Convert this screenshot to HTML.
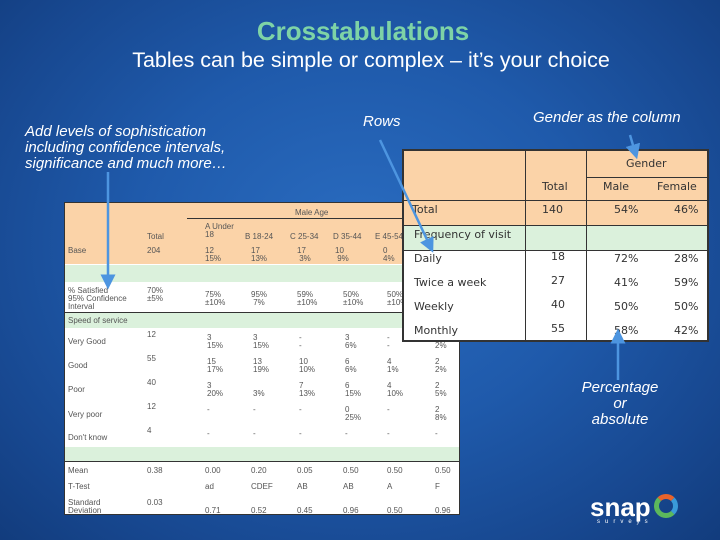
<!DOCTYPE html>
<html><head><meta charset="utf-8"><style>
body{margin:0}
#slide{position:relative;width:720px;height:540px;overflow:hidden;font-family:"Liberation Sans",sans-serif;
background:radial-gradient(ellipse at 50% 45%,#2a6cc0 0%,#1f5aab 45%,#17478f 80%,#123c7d 100%);}
.a{position:absolute;white-space:nowrap}
.t{font-size:8px;color:#555;line-height:8px}
.r{font-family:"DejaVu Sans",sans-serif;font-size:11px;color:#333;line-height:12px}
.it{font-family:"Liberation Sans",sans-serif;font-style:italic;color:#fff;font-size:15px;line-height:15px}
</style></head><body>
<div id="slide">
<div class="a" style="left:0;width:726px;top:16px;text-align:center;color:#7ed3a6;font-size:26px;font-family:'Liberation Sans',sans-serif;font-weight:bold">Crosstabulations</div>
<div class="a" style="left:0;width:742px;top:48px;text-align:center;color:#fff;font-size:21.5px;font-family:'Liberation Sans',sans-serif">Tables can be simple or complex – it’s your choice</div>
<div class="a it" style="left:25px;top:124px;line-height:16px">Add levels of sophistication<br>including confidence intervals,<br>significance and much more…</div>
<div class="a it" style="left:363px;top:114px">Rows</div>
<div class="a it" style="left:533px;top:110px">Gender as the column</div>
<div class="a it" style="left:570px;top:380px;width:100px;text-align:center;line-height:16px">Percentage<br>or<br>absolute</div>

<!-- left complex table -->
<div class="a" style="left:64px;top:202px;width:396px;height:313px;background:#fff;border:1px solid #333;box-sizing:border-box">
 <div class="a" style="left:0;top:0;width:394px;height:61px;background:#fbd3a8"></div>
 <div class="a" style="left:0;top:62px;width:394px;height:17px;background:#dbf1dc"></div>
 <div class="a" style="left:0;top:109px;width:394px;height:1px;background:#333"></div>
 <div class="a" style="left:0;top:110px;width:394px;height:15px;background:#dbf1dc"></div>
 <div class="a" style="left:0;top:244px;width:394px;height:14px;background:#dbf1dc"></div>
 <div class="a" style="left:0;top:258px;width:394px;height:1px;background:#333"></div>
 <div class="a" style="left:122px;top:15px;width:272px;height:1px;background:#333"></div>
 <div class="a t" style="left:230px;top:6px">Male Age</div>
 <div class="a t" style="left:82px;top:30px">Total</div>
 <div class="a t" style="left:140px;top:20px">A Under<br>18</div>
 <div class="a t" style="left:180px;top:30px">B 18-24</div>
 <div class="a t" style="left:225px;top:30px">C 25-34</div>
 <div class="a t" style="left:268px;top:30px">D 35-44</div>
 <div class="a t" style="left:310px;top:30px">E 45-54</div>
 <div class="a t" style="left:3px;top:44px">Base</div>
 <div class="a t" style="left:82px;top:44px">204</div>
 <div class="a t" style="left:140px;top:44px">12<br>15%</div>
 <div class="a t" style="left:186px;top:44px">17<br>13%</div>
 <div class="a t" style="left:232px;top:44px">17<br>&nbsp;3%</div>
 <div class="a t" style="left:270px;top:44px">10<br>&nbsp;9%</div>
 <div class="a t" style="left:318px;top:44px">0<br>4%</div>
 <div class="a t" style="left:3px;top:84px">% Satisfied<br>95% Confidence<br>Interval</div>
 <div class="a t" style="left:82px;top:84px">70%<br>±5%</div>
 <div class="a t" style="left:140px;top:88px">75%<br>±10%</div>
 <div class="a t" style="left:186px;top:88px">95%<br>&nbsp;7%</div>
 <div class="a t" style="left:232px;top:88px">59%<br>±10%</div>
 <div class="a t" style="left:278px;top:88px">50%<br>±10%</div>
 <div class="a t" style="left:322px;top:88px">50%<br>±10%</div>
 <div class="a t" style="left:3px;top:114px">Speed of service</div>
 <div class="a t" style="left:3px;top:135px">Very Good</div>
 <div class="a t" style="left:3px;top:159px">Good</div>
 <div class="a t" style="left:3px;top:183px">Poor</div>
 <div class="a t" style="left:3px;top:208px">Very poor</div>
 <div class="a t" style="left:3px;top:231px">Don't know</div>
 <div class="a t" style="left:82px;top:128px">12<br><br><br>55<br><br><br>40<br><br><br>12<br><br><br>4</div>
 <div class="a t" style="left:142px;top:131px">3<br>15%<br><br>15<br>17%<br><br>3<br>20%<br><br>-<br><br><br>-</div>
 <div class="a t" style="left:188px;top:131px">3<br>15%<br><br>13<br>19%<br><br><br>3%<br><br>-<br><br><br>-</div>
 <div class="a t" style="left:234px;top:131px">-<br>-<br><br>10<br>10%<br><br>7<br>13%<br><br>-<br><br><br>-</div>
 <div class="a t" style="left:280px;top:131px">3<br>6%<br><br>6<br>6%<br><br>6<br>15%<br><br>0<br>25%<br><br>-</div>
 <div class="a t" style="left:322px;top:131px">-<br>-<br><br>4<br>1%<br><br>4<br>10%<br><br>-<br><br><br>-</div>
 <div class="a t" style="left:370px;top:131px"><br>2%<br><br>2<br>2%<br><br>2<br>5%<br><br>2<br>8%<br><br>-</div>
 <div class="a t" style="left:3px;top:264px">Mean<br><br>T-Test<br><br>Standard<br>Deviation</div>
 <div class="a t" style="left:82px;top:264px">0.38<br><br><br><br>0.03</div>
 <div class="a t" style="left:140px;top:264px">0.00<br><br>ad<br><br><br>0.71</div>
 <div class="a t" style="left:186px;top:264px">0.20<br><br>CDEF<br><br><br>0.52</div>
 <div class="a t" style="left:232px;top:264px">0.05<br><br>AB<br><br><br>0.45</div>
 <div class="a t" style="left:278px;top:264px">0.50<br><br>AB<br><br><br>0.96</div>
 <div class="a t" style="left:322px;top:264px">0.50<br><br>A<br><br><br>0.50</div>
 <div class="a t" style="left:370px;top:264px">0.50<br><br>F<br><br><br>0.96</div>
</div>

<!-- right simple table -->
<div class="a" style="left:402px;top:149px;width:307px;height:193px;background:#fff;border:2px solid #333;box-sizing:border-box">
 <div class="a" style="left:0;top:0;width:303px;height:74px;background:#fbd3a8"></div>
 <div class="a" style="left:0;top:75px;width:303px;height:24px;background:#dbf1dc"></div>
 <div class="a" style="left:0;top:49px;width:303px;height:1px;background:#333"></div>
 <div class="a" style="left:0;top:74px;width:303px;height:1px;background:#333"></div>
 <div class="a" style="left:0;top:99px;width:303px;height:1px;background:#333"></div>
 <div class="a" style="left:182px;top:26px;width:121px;height:1px;background:#333"></div>
 <div class="a" style="left:121px;top:0;width:1px;height:189px;background:#333"></div>
 <div class="a" style="left:182px;top:0;width:1px;height:189px;background:#333"></div>
 <div class="a r" style="left:222px;top:7px">Gender</div>
 <div class="a r" style="left:138px;top:30px">Total</div>
 <div class="a r" style="left:199px;top:30px">Male</div>
 <div class="a r" style="left:253px;top:30px">Female</div>
 <div class="a r" style="left:8px;top:53px">Total</div>
 <div class="a r" style="left:138px;top:53px">140</div>
 <div class="a r" style="left:210px;top:53px">54%</div>
 <div class="a r" style="left:270px;top:53px">46%</div>
 <div class="a r" style="left:10px;top:78px">Frequency of visit</div>
 <div class="a r" style="left:10px;top:96px;line-height:24px">Daily<br>Twice a week<br>Weekly<br>Monthly</div>
 <div class="a r" style="left:147px;top:94px;line-height:24px">18<br>27<br>40<br>55</div>
 <div class="a r" style="left:210px;top:96px;line-height:24px">72%<br>41%<br>50%<br>58%</div>
 <div class="a r" style="left:270px;top:96px;line-height:24px">28%<br>59%<br>50%<br>42%</div>
</div>

<svg class="a" style="left:0;top:0" width="720" height="540">
 <defs><marker id="m" markerWidth="6" markerHeight="6" refX="3" refY="3" orient="auto"><path d="M0,0L6,3L0,6z" fill="#4d95e0"/></marker></defs>
 <g stroke="#4d95e0" stroke-width="2.5" fill="none" marker-end="url(#m)">
  <line x1="108" y1="172" x2="108" y2="282"/>
  <line x1="380" y1="140" x2="430" y2="246"/>
  <line x1="630" y1="135" x2="635" y2="152"/>
  <line x1="618" y1="380" x2="618" y2="336"/>
 </g>
</svg>

<div class="a" style="left:590px;top:494px;color:#fff;font-weight:bold;font-size:26px;line-height:26px;font-family:'Liberation Sans',sans-serif">snap <span style="display:inline-block;width:14px;height:14px;border:5px solid #5cb85c;border-top-color:#e8632b;border-right-color:#3a9ad9;border-radius:50%;vertical-align:-2px;margin-left:-4px"></span></div>
<div class="a" style="left:597px;top:519px;color:#fff;font-size:6px;letter-spacing:5px">surveys</div>
</div>
</body></html>
